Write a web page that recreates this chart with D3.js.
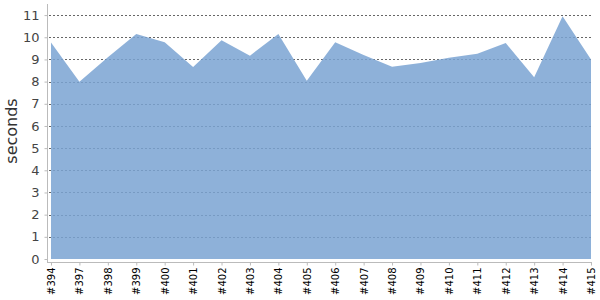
<!DOCTYPE html>
<html>
<head>
<meta charset="utf-8">
<script src="https://cdn.jsdelivr.net/npm/d3@7"></script>
<style>
  body { margin: 0; background: #fff; }
  text { font-family: "DejaVu Sans", sans-serif; }
</style>
</head>
<body>
<div id="chart"></div>
<script>
// build numbers and durations
const builds = ["#394", "#397", "#398", "#399", "#400", "#401", "#402", "#403", "#404", "#405",
  "#406", "#407", "#408", "#409", "#410", "#411", "#412", "#413", "#414", "#415"]
const seconds = [9.76, 7.99, 9.1, 10.15, 9.77, 8.66, 9.87, 9.17, 10.15, 8.04,
  9.78, 9.2, 8.67, 8.84, 9.08, 9.26, 9.74, 8.2, 10.95, 9.0]
const yTicks = [0, 1, 2, 3, 4, 5, 6, 7, 8, 9, 10, 11]

const width = 600
const height = 300

var svg = d3.select("#chart")
  .append("svg")
  .attr("width", width)
  .attr("height", height)

var x = d3.scalePoint()
  .domain(builds)
  .range([51, 591])

var y = d3.scaleLinear()
  .domain([0, 11.5])
  .range([259, 4])

// gridlines, under the area
svg.selectAll(".grid")
  .data(yTicks.filter(d => d > 0))
  .enter().append("line")
  .attr("class", "grid")
  .attr("x1", 49)
  .attr("x2", 591)
  .attr("y1", d => Math.round(y(d)) + 0.5)
  .attr("y2", d => Math.round(y(d)) + 0.5)
  .style("stroke", "#666")
  .style("stroke-dasharray", "2,2")

// filled area, slightly see-through
var area = d3.area()
  .x((d, i) => x(builds[i]))
  .y0(y(0))
  .y1(d => y(d))

svg.append("path")
  .datum(seconds)
  .attr("d", area)
  .style("fill", "#7aa3d2")
  .style("fill-opacity", 0.85)

// y axis
var yAxis = svg.append("g")
  .attr("transform", "translate(47.5,0)")
  .call(d3.axisLeft(y).tickValues(yTicks).tickSize(3).tickPadding(5).tickFormat(d3.format("d")))
yAxis.select(".domain").attr("d", "M0," + y(11.5) + "V" + 262).style("stroke", "#bbb")
yAxis.selectAll(".tick line").style("stroke", "#bbb")
yAxis.selectAll(".tick text")
  .style("font-size", "13px")
  .style("fill", "#444")

// x axis
var xAxis = svg.append("g")
  .attr("transform", "translate(0,262.5)")
  .call(d3.axisBottom(x).tickSize(3).tickSizeOuter(0))
xAxis.select(".domain").attr("d", "M47,0H592").style("stroke", "#bbb")
xAxis.selectAll(".tick line").style("stroke", "#bbb")
xAxis.selectAll(".tick text")
  .style("font-size", "10px")
  .style("fill", "#000")
  .attr("text-anchor", "end")
  .attr("transform", "rotate(-90)")
  .attr("x", -5)
  .attr("y", 0)
  .attr("dy", "0.35em")

// axis title
svg.append("text")
  .attr("transform", "translate(17,131) rotate(-90)")
  .attr("text-anchor", "middle")
  .style("font-size", "16px")
  .style("fill", "#333")
  .text("seconds")
</script>
</body>
</html>
